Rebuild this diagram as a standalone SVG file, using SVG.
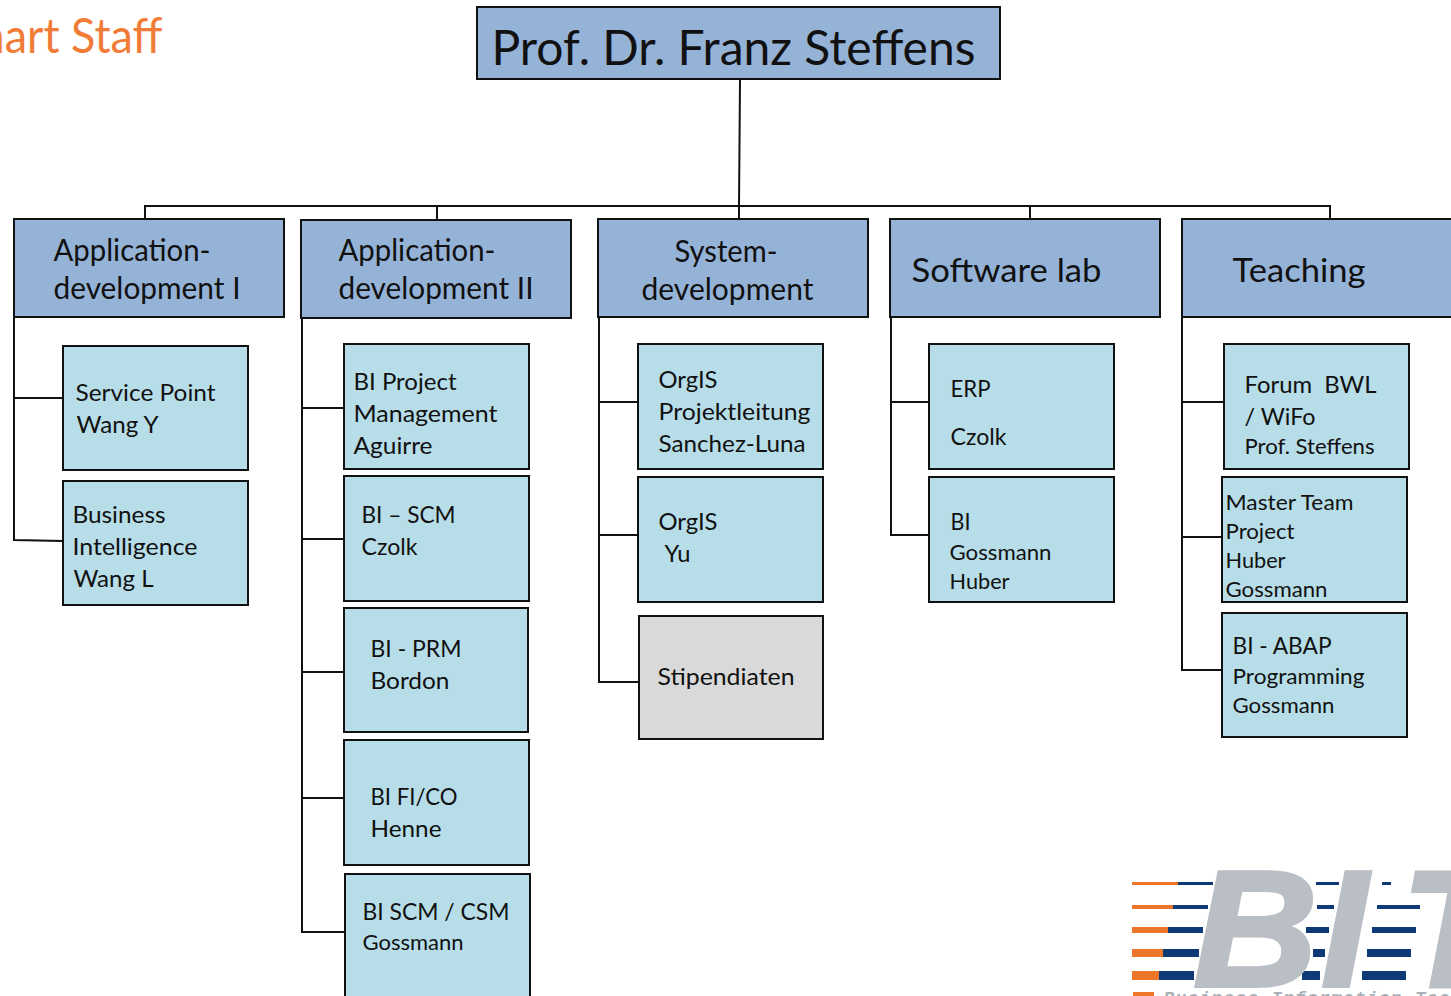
<svg xmlns="http://www.w3.org/2000/svg" width="1451" height="996" viewBox="0 0 1451 996">
<style>
text{font-family:Lato,"Open Sans",sans-serif;fill:#111;font-size:24px;transform:translateX(-.5px)}
.h{font-size:31px}
.s{font-size:22px}
.box{stroke:#111;stroke-width:2}
.top{fill:#95b3d7}
.sub{fill:#b7dde8}
.gr{fill:#d9d9d9}
#connectors path{fill:none;stroke:#111;stroke-width:2}
.nv{fill:#0e3a78}.or{fill:#ee7628}
.bit{font-family:'Liberation Sans',sans-serif;font-weight:bold;font-style:italic;font-size:165px;fill:#b9bfc5;stroke:#b9bfc5;stroke-width:4}
</style>
<rect width="1451" height="996" fill="#fff"/>
<text x="-50" y="53" style="fill:#f07c38;font-size:48px" textLength="213" lengthAdjust="spacingAndGlyphs">Chart Staff</text>
<g id="connectors">
<path d="M740 80 739 207M145 218V206H1330V219M437 206V219M739 206V219M1030 206V218"/>
<path d="M14 317V540L63 541M14 398H63"/>
<path d="M302 318V932H345M302 408H343M302 539H344M302 672H343M302 798H344"/>
<path d="M599 317V682H638M599 402H638M599 535H638"/>
<path d="M891 317V535H929M891 402H929"/>
<path d="M1182 317V670H1222M1182 402H1224M1182 537H1222"/>
</g>
<g id="n-root"><rect class="box top" x="477" y="7" width="523" height="72"/><text x="492" y="65" style="font-size:48px" textLength="484" lengthAdjust="spacingAndGlyphs">Prof. Dr. Franz Steffens</text></g>
<g id="n-app1"><rect class="box top" x="14" y="219" width="270" height="98"/><text class="h" x="54" y="261" textLength="157" lengthAdjust="spacingAndGlyphs">Application-</text><text class="h" x="54" y="299" textLength="187" lengthAdjust="spacingAndGlyphs">development I</text></g>
<g id="n-app2"><rect class="box top" x="301" y="220" width="270" height="98"/><text class="h" x="339" y="261" textLength="157" lengthAdjust="spacingAndGlyphs">Application-</text><text class="h" x="339" y="299" textLength="195" lengthAdjust="spacingAndGlyphs">development II</text></g>
<g id="n-sys"><rect class="box top" x="598" y="219" width="270" height="98"/><text class="h" x="675" y="262" textLength="103" lengthAdjust="spacingAndGlyphs">System-</text><text class="h" x="642" y="300" textLength="172" lengthAdjust="spacingAndGlyphs">development</text></g>
<g id="n-soft"><rect class="box top" x="890" y="219" width="270" height="98"/><text class="h" x="912" y="282" style="font-size:33px" textLength="190" lengthAdjust="spacingAndGlyphs">Software lab</text></g>
<g id="n-teach"><rect class="box top" x="1182" y="219" width="272" height="98"/><text class="h" x="1233" y="282" style="font-size:33px" textLength="133" lengthAdjust="spacingAndGlyphs">Teaching</text></g>

<g id="n-sp"><rect class="box sub" x="63" y="346" width="185" height="124"/><text x="76" y="401" textLength="140" lengthAdjust="spacingAndGlyphs">Service Point</text><text x="77" y="433" textLength="82" lengthAdjust="spacingAndGlyphs">Wang Y</text></g>
<g id="n-bi"><rect class="box sub" x="63" y="481" width="185" height="124"/><text x="73" y="523" textLength="93" lengthAdjust="spacingAndGlyphs">Business</text><text x="73" y="555" textLength="125" lengthAdjust="spacingAndGlyphs">Intelligence</text><text x="74" y="587" textLength="80" lengthAdjust="spacingAndGlyphs">Wang L</text></g>

<g id="n-pm"><rect class="box sub" x="344" y="344" width="185" height="125"/><text x="354" y="390" textLength="103" lengthAdjust="spacingAndGlyphs">BI Project</text><text x="354" y="422" textLength="144" lengthAdjust="spacingAndGlyphs">Management</text><text x="354" y="454" textLength="79" lengthAdjust="spacingAndGlyphs">Aguirre</text></g>
<g id="n-scm"><rect class="box sub" x="344" y="476" width="185" height="125"/><text x="362" y="523" textLength="94" lengthAdjust="spacingAndGlyphs">BI – SCM</text><text x="362" y="555" textLength="56" lengthAdjust="spacingAndGlyphs">Czolk</text></g>
<g id="n-prm"><rect class="box sub" x="344" y="608" width="184" height="124"/><text x="371" y="657" textLength="91" lengthAdjust="spacingAndGlyphs">BI - PRM</text><text x="371" y="689" textLength="79" lengthAdjust="spacingAndGlyphs">Bordon</text></g>
<g id="n-fico"><rect class="box sub" x="344" y="740" width="185" height="125"/><text x="371" y="805" textLength="87" lengthAdjust="spacingAndGlyphs">BI FI/CO</text><text x="371" y="837" textLength="71" lengthAdjust="spacingAndGlyphs">Henne</text></g>
<g id="n-csm"><rect class="box sub" x="345" y="874" width="185" height="126"/><text x="363" y="920" textLength="147" lengthAdjust="spacingAndGlyphs">BI SCM / CSM</text><text class="s" x="363" y="950" textLength="101" lengthAdjust="spacingAndGlyphs">Gossmann</text></g>

<g id="n-orgis1"><rect class="box sub" x="638" y="344" width="185" height="125"/><text x="659" y="388" textLength="59" lengthAdjust="spacingAndGlyphs">OrgIS</text><text x="659" y="420" textLength="152" lengthAdjust="spacingAndGlyphs">Projektleitung</text><text x="659" y="452" textLength="147" lengthAdjust="spacingAndGlyphs">Sanchez-Luna</text></g>
<g id="n-orgis2"><rect class="box sub" x="638" y="477" width="185" height="125"/><text x="659" y="530" textLength="59" lengthAdjust="spacingAndGlyphs">OrgIS</text><text x="665" y="562" textLength="26" lengthAdjust="spacingAndGlyphs">Yu</text></g>
<g id="n-stip"><rect class="box gr" x="639" y="616" width="184" height="123"/><text x="658" y="685" textLength="137" lengthAdjust="spacingAndGlyphs">Stipendiaten</text></g>

<g id="n-erp"><rect class="box sub" x="929" y="344" width="185" height="125"/><text x="951" y="397" textLength="40" lengthAdjust="spacingAndGlyphs">ERP</text><text x="951" y="445" textLength="56" lengthAdjust="spacingAndGlyphs">Czolk</text></g>
<g id="n-bi2"><rect class="box sub" x="929" y="477" width="185" height="125"/><text x="951" y="530" textLength="20" lengthAdjust="spacingAndGlyphs">BI</text><text class="s" x="950" y="560" textLength="102" lengthAdjust="spacingAndGlyphs">Gossmann</text><text class="s" x="950" y="589" textLength="60" lengthAdjust="spacingAndGlyphs">Huber</text></g>

<g id="n-forum"><rect class="box sub" x="1224" y="344" width="185" height="125"/><text x="1245" y="393" textLength="132" lengthAdjust="spacingAndGlyphs" xml:space="preserve">Forum  BWL</text><text x="1245" y="425" textLength="71" lengthAdjust="spacingAndGlyphs">/ WiFo</text><text class="s" x="1245" y="454" textLength="130" lengthAdjust="spacingAndGlyphs">Prof. Steffens</text></g>
<g id="n-master"><rect class="box sub" x="1222" y="477" width="185" height="125"/><text class="s" x="1226" y="510" textLength="128" lengthAdjust="spacingAndGlyphs">Master Team</text><text class="s" x="1226" y="539" textLength="69" lengthAdjust="spacingAndGlyphs">Project</text><text class="s" x="1226" y="568" textLength="60" lengthAdjust="spacingAndGlyphs">Huber</text><text class="s" x="1226" y="597" textLength="102" lengthAdjust="spacingAndGlyphs">Gossmann</text></g>
<g id="n-abap"><rect class="box sub" x="1222" y="613" width="185" height="124"/><text x="1233" y="654" textLength="99" lengthAdjust="spacingAndGlyphs">BI - ABAP</text><text class="s" x="1233" y="684" textLength="132" lengthAdjust="spacingAndGlyphs">Programming</text><text class="s" x="1233" y="713" textLength="102" lengthAdjust="spacingAndGlyphs">Gossmann</text></g>

<g id="logo">
<rect class="or" x="1132" y="882" width="46" height="3"/><rect class="nv" x="1178" y="882" width="35" height="3"/>
<rect class="or" x="1132" y="905" width="41" height="4"/><rect class="nv" x="1173" y="905" width="35" height="4"/>
<rect class="or" x="1132" y="927" width="36" height="6"/><rect class="nv" x="1168" y="927" width="35" height="6"/>
<rect class="or" x="1132" y="949" width="31" height="8"/><rect class="nv" x="1163" y="949" width="36" height="8"/>
<rect class="or" x="1132" y="971" width="27" height="9"/><rect class="nv" x="1159" y="971" width="35" height="9"/>
<rect class="nv" x="1316" y="882" width="23" height="3"/><rect class="nv" x="1382" y="882" width="9" height="3"/>
<rect class="nv" x="1317" y="905" width="17" height="4"/><rect class="nv" x="1377" y="905" width="43" height="4"/>
<rect class="nv" x="1306" y="927" width="23" height="6"/><rect class="nv" x="1372" y="927" width="44" height="6"/>
<rect class="nv" x="1313" y="949" width="12" height="8"/><rect class="nv" x="1367" y="949" width="44" height="8"/>
<rect class="nv" x="1302" y="971" width="18" height="9"/><rect class="nv" x="1362" y="971" width="44" height="9"/>
<text class="bit" x="1194" y="986" textLength="124" lengthAdjust="spacingAndGlyphs">B</text>
<text class="bit" x="1322" y="986">I</text>
<text class="bit" x="1402" y="986">T</text>
<rect class="or" x="1133" y="992" width="21" height="4"/>
<text x="1164" y="1004" style="font-family:'Liberation Mono',monospace;font-style:italic;font-weight:bold;font-size:18px;fill:#a9b0b6" textLength="286" lengthAdjust="spacing">Business Information Tec</text>
</g>
</svg>
